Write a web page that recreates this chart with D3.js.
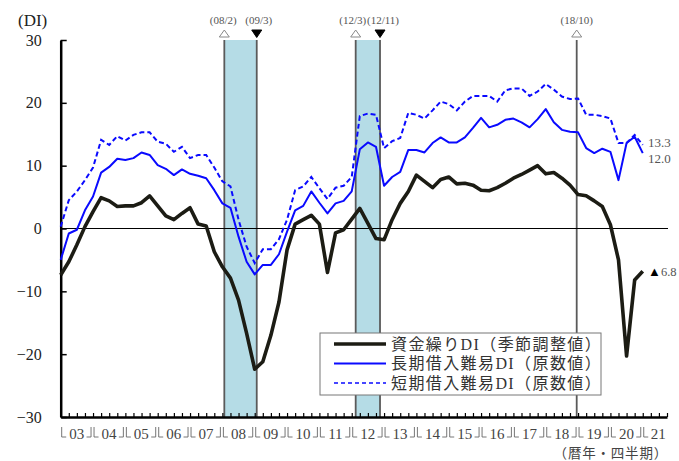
<!DOCTYPE html>
<html>
<head>
<meta charset="utf-8">
<script src="https://cdn.jsdelivr.net/npm/d3@7"></script>
<style>
  body { margin: 0; background: #fff; }
  svg { display: block; }
  text { font-family: "Liberation Serif", "Noto Sans CJK JP", serif; }
</style>
</head>
<body>
<svg id="chart" width="679" height="461"></svg>
<script>
// quarterly data, 03Q1 .. 21Q1
var years = ["03","04","05","06","07","08","09","10","11","12","13","14","15","16","17","18","19","20","21"];
var cashDI = [-7.4,-5.3,-2.6,0.3,2.7,4.9,4.4,3.5,3.6,3.6,
  4.1,5.2,3.6,2.0,1.4,2.4,3.3,0.7,0.4,-3.7,
  -6.1,-7.9,-11.4,-16.7,-22.4,-21.2,-17.0,-11.7,-3.4,0.7,
  1.4,2.1,0.7,-7.0,-0.7,-0.2,1.5,3.2,0.8,-1.6,
  -1.8,1.4,4.0,5.9,8.5,7.5,6.5,7.8,8.2,7.1,
  7.2,6.9,6.1,6.0,6.5,7.2,8.0,8.6,9.3,10.0,
  8.7,8.9,8.0,6.9,5.4,5.2,4.4,3.5,0.6,-5.0,
  -20.3,-8.2,-6.8];
var longDI = [-5.0,-0.8,-0.2,2.9,5.1,8.9,9.8,11.1,10.9,11.2,
  12.1,11.7,10.1,9.5,8.5,9.4,8.7,8.4,8.0,6.1,
  4.0,3.3,-1.3,-5.3,-7.3,-5.8,-5.8,-4.1,-0.5,2.9,
  3.6,5.9,4.1,2.4,4.0,4.4,5.9,12.6,13.7,13.0,
  6.8,8.2,9.0,12.5,12.5,12.1,13.6,14.5,13.7,13.7,
  14.5,16.0,17.6,16.1,16.5,17.3,17.5,16.9,16.1,17.4,
  19.0,16.9,15.7,15.4,15.3,12.8,12.0,12.7,12.2,7.7,
  13.6,14.6,12.0];
var shortDI = [0.3,4.5,5.9,7.7,9.7,14.1,13.3,14.7,14.0,14.9,
  15.3,15.3,13.8,13.5,12.2,13.0,11.2,11.7,11.7,9.7,
  7.5,6.7,1.4,-2.9,-5.5,-3.3,-3.3,-1.7,1.4,6.1,
  6.7,8.2,6.4,4.7,6.5,6.8,8.2,17.9,18.3,18.1,
  12.8,13.9,14.4,18.4,18.1,17.5,18.8,20.2,19.8,18.8,
  20.2,21.1,21.1,21.1,20.2,22.0,22.3,22.3,21.1,21.8,
  23.0,22.1,21.0,20.6,20.7,18.1,18.1,17.9,17.5,13.6,
  13.6,14.9,13.3];
// business cycle turning points (position in quarters from 03Q1)
var events = [
  {label: "(08/2)", q: 20.24, kind: "peak"},
  {label: "(09/3)", q: 24.25, kind: "trough"},
  {label: "(12/3)", q: 36.49, kind: "peak"},
  {label: "(12/11)", q: 39.5, kind: "trough"},
  {label: "(18/10)", q: 63.83, kind: "peak"}
];
var yTicks = [-30,-20,-10,0,10,20,30];
var legendItems = ["資金繰りDI（季節調整値）", "長期借入難易DI（原数値）", "短期借入難易DI（原数値）"];
var endLabels = ["13.3", "12.0", "6.8"];

var svg = d3.select("#chart");
var x = d3.scaleLinear().domain([0, 75]).range([60.7, 667]);
var y = d3.scaleLinear().domain([-30, 30]).range([417, 40]);

// shaded recession bands
var bands = [[events[0], events[1]], [events[2], events[3]]];
svg.append("g").selectAll("rect")
  .data(bands)
  .join("rect")
  .attr("x", function(d) { return x(d[0].q) })
  .attr("width", function(d) { return x(d[1].q) - x(d[0].q) })
  .attr("y", y(30))
  .attr("height", y(-30) - y(30))
  .style("fill", "#b5dce6");

svg.append("g").selectAll("line")
  .data(events)
  .join("line")
  .attr("x1", function(d) { return x(d.q) })
  .attr("x2", function(d) { return x(d.q) })
  .attr("y1", y(30))
  .attr("y2", y(-30))
  .style("stroke", "#5a5a5a")
  .style("stroke-width", 1.8);

// markers and labels above
svg.append("g").selectAll("path")
  .data(events)
  .join("path")
  .attr("d", function(d) {
    var cx = x(d.q);
    if (d.kind == "peak") return "M" + (cx - 5) + ",37 L" + cx + ",30 L" + (cx + 5) + ",37 Z";
    return "M" + (cx - 5) + ",30 L" + cx + ",37.5 L" + (cx + 5) + ",30 Z";
  })
  .style("fill", function(d) { return d.kind == "peak" ? "#fff" : "#000" })
  .style("stroke", function(d) { return d.kind == "peak" ? "#888" : "#000" })
  .style("stroke-width", 1);

var nudge = {"(08/2)": -1, "(09/3)": 2, "(12/3)": -3, "(12/11)": 3, "(18/10)": 0};
svg.append("g").selectAll("text")
  .data(events)
  .join("text")
  .attr("x", function(d) { return x(d.q) + nudge[d.label] })
  .attr("y", 24)
  .attr("text-anchor", "middle")
  .style("font-size", "11px")
  .style("fill", "#555")
  .text(function(d) { return d.label });

// zero line
svg.append("line")
  .attr("x1", x(0)).attr("x2", 668)
  .attr("y1", y(0)).attr("y2", y(0))
  .style("stroke", "#000")
  .style("stroke-width", 1.2);

// axes
var yAxis = svg.append("g")
  .attr("transform", "translate(" + x(0) + ",0)")
  .call(d3.axisLeft(y).tickValues(yTicks).tickSize(-6).tickSizeOuter(0).tickPadding(19));
yAxis.select(".domain").style("stroke-width", 2.5);
yAxis.selectAll(".tick line").style("stroke-width", 1.5);
yAxis.selectAll("text").style("font-size", "16px").style("fill", "#222").style("font-family", "Liberation Serif");

var xAxis = svg.append("g")
  .attr("transform", "translate(0," + y(-30) + ")")
  .call(d3.axisBottom(x).tickValues(d3.range(0, 76)).tickSize(-4).tickSizeOuter(0).tickFormat(""));
xAxis.select(".domain").style("stroke-width", 2.5);
xAxis.selectAll(".tick line").style("stroke-width", 1.2);

// year labels with brackets
var yl = svg.append("g").selectAll("g")
  .data(years)
  .join("g");
yl.append("path")
  .attr("d", function(d, i) {
    var a = x(i * 4) + 1, b = x(i * 4 + 4) - 2;
    var p = "M" + a + ",427 V437 H" + (a + 4.5);
    if (i < years.length - 1) p += " M" + (b - 4.5) + ",437 H" + b + " V427";
    return p;
  })
  .style("fill", "none")
  .style("stroke", "#666")
  .style("stroke-width", 0.9);
yl.append("text")
  .attr("x", function(d, i) { return x(i * 4) + (i < years.length - 1 ? 16 : 15.5) })
  .attr("y", 438.5)
  .attr("text-anchor", "middle")
  .style("font-size", "15px")
  .style("fill", "#444")
  .text(function(d) { return d });

// series lines
var line = d3.line()
  .x(function(d, i) { return x(i) })
  .y(function(d) { return y(d) });

svg.append("path").datum(shortDI)
  .attr("d", line)
  .style("fill", "none").style("stroke", "#0a0aff")
  .style("stroke-width", 2).style("stroke-dasharray", "5,3");
svg.append("path").datum(longDI)
  .attr("d", line)
  .style("fill", "none").style("stroke", "#0a0aff")
  .style("stroke-width", 2).style("stroke-linejoin", "round");
svg.append("path").datum(cashDI)
  .attr("d", line)
  .style("fill", "none").style("stroke", "#1c1c14")
  .style("stroke-width", 3.6).style("stroke-linejoin", "round");

// end labels
var last = cashDI.length - 1;
svg.append("text").attr("x", 648).attr("y", y(shortDI[last]) + 2)
  .style("font-size", "13px").style("fill", "#555").text(endLabels[0]);
svg.append("text").attr("x", 648).attr("y", y(longDI[last]) + 10)
  .style("font-size", "13px").style("fill", "#555").text(endLabels[1]);
var neg = svg.append("text").attr("x", 648).attr("y", y(cashDI[last]) + 5)
  .style("font-size", "12.5px").style("fill", "#555");
neg.append("tspan").style("fill", "#000").style("font-size", "13px").text("▲");
neg.append("tspan").text(endLabels[2]);

// legend
var lg = svg.append("g").attr("transform", "translate(320,333)");
lg.append("rect").attr("width", 281).attr("height", 62)
  .style("fill", "#fff").style("stroke", "#777").style("stroke-width", 1);
var lstyle = [
  {stroke: "#1c1c14", w: 3.6, dash: null},
  {stroke: "#0a0aff", w: 2, dash: null},
  {stroke: "#0a0aff", w: 1.5, dash: "4,3"}
];
legendItems.forEach(function(t, i) {
  var cy = 11 + i * 19.5;
  lg.append("line").attr("x1", 14).attr("x2", 66).attr("y1", cy).attr("y2", cy)
    .style("stroke", lstyle[i].stroke).style("stroke-width", lstyle[i].w)
    .style("stroke-dasharray", lstyle[i].dash);
  lg.append("text").attr("x", 71).attr("y", cy + 5.5)
    .style("font-size", "16px").style("letter-spacing", "1.4px")
    .style("fill", "#333").text(t);
});

// unit labels
svg.append("text").attr("x", 18).attr("y", 26)
  .style("font-size", "17px").style("fill", "#222").text("(DI)");
svg.append("text").attr("x", 668).attr("y", 458).attr("text-anchor", "end")
  .style("font-size", "13.5px").style("letter-spacing", "0.8px")
  .style("fill", "#444").text("（暦年・四半期）");
</script>
</body>
</html>
